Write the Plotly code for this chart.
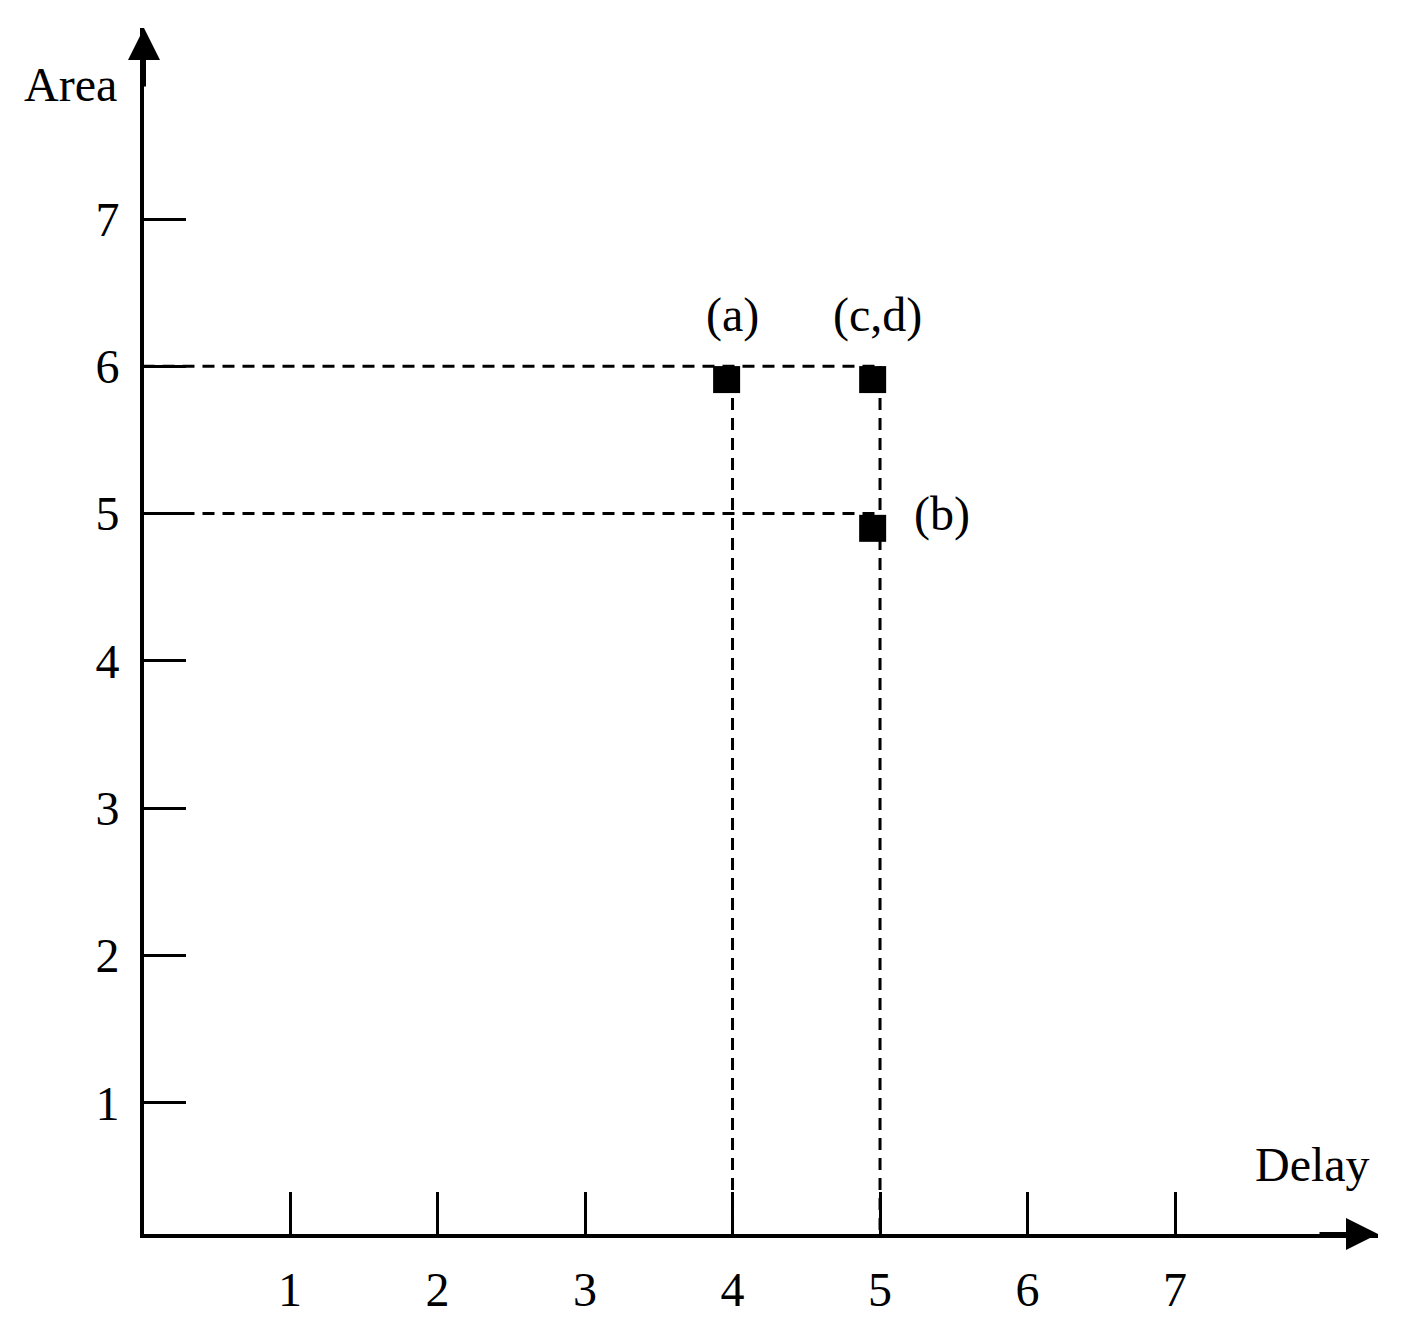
import plotly.graph_objects as go

# Design points (delay, area) as labelled on the chart
labels = ["(a)", "(b)", "(c,d)"]
delay = [4, 5, 5]
area = [6, 5, 6]
# Marker positions (slightly offset in the print)
marker_delay = [3.96, 4.95, 4.95]
marker_area = [5.91, 4.90, 5.91]

x_ticks = [1, 2, 3, 4, 5, 6, 7]
y_ticks = [1, 2, 3, 4, 5, 6, 7]
x_title = "Delay"
y_title = "Area"

FONT = "Liberation Serif, Times New Roman, serif"
DASH = "12px,8px"

fig = go.Figure()

# horizontal dashed guides from the y-axis to the points
for a in sorted(set(area)):
    xmax = max(d for d, ar in zip(delay, area) if ar == a)
    fig.add_trace(go.Scatter(x=[0, xmax], y=[a, a], mode="lines",
                             line=dict(color="black", width=3, dash=DASH),
                             hoverinfo="skip", showlegend=False))
# vertical dashed guides from the points down to the x-axis
for d in sorted(set(delay)):
    ymax = max(ar for dd, ar in zip(delay, area) if dd == d)
    fig.add_trace(go.Scatter(x=[d, d], y=[0, ymax], mode="lines",
                             line=dict(color="black", width=3, dash=DASH),
                             hoverinfo="skip", showlegend=False))

fig.add_trace(go.Scatter(x=marker_delay, y=marker_area, mode="markers",
                         marker=dict(symbol="square", size=27, color="black"),
                         showlegend=False))

# point labels
offsets = {"(a)": (0, 51), "(c,d)": (-3, 51), "(b)": (62, 0)}
for lab, d, a in zip(labels, delay, area):
    dx, dy = offsets[lab]
    fig.add_annotation(x=d, y=a, text=lab, showarrow=False, xshift=dx, yshift=dy,
                       font=dict(family=FONT, size=48, color="black"))

axis_common = dict(showgrid=False, zeroline=False, showline=True, linecolor="black",
                   linewidth=4, ticks="inside", ticklen=42, tickwidth=3,
                   tickcolor="black", tickfont=dict(family=FONT, size=48, color="black"),
                   mirror=False, automargin=False)

fig.update_xaxes(range=[0.0102, 8.376], tickvals=x_ticks, ticktext=[str(v) for v in x_ticks],
                 ticklabelstandoff=10, **axis_common)
fig.update_yaxes(range=[0.109, 8.297], tickvals=y_ticks, ticktext=[str(v) for v in y_ticks],
                 ticklabelstandoff=11, **axis_common)

# axis arrowheads
fig.add_annotation(xref="paper", yref="paper", x=1.0, y=0.0, ax=-60, ay=0,
                   axref="pixel", ayref="pixel", showarrow=True, arrowhead=2,
                   arrowsize=1.6, arrowwidth=4, arrowcolor="black", text="")
fig.add_annotation(xref="paper", yref="paper", x=0.0, y=1.0, ax=0, ay=60,
                   axref="pixel", ayref="pixel", showarrow=True, arrowhead=2,
                   arrowsize=1.6, arrowwidth=4, arrowcolor="black", text="")

# axis titles (pixel targets: Area centre (70, 85), Delay centre (1312, 1164))
PL, PT, PW, PH = 144, 28, 1234, 1206
fig.add_annotation(xref="paper", yref="paper", x=(70 - PL) / PW, y=(PT + PH - 85) / PH,
                   xanchor="center", yanchor="middle", text=y_title,
                   showarrow=False, font=dict(family=FONT, size=48, color="black"))
fig.add_annotation(xref="paper", yref="paper", x=(1312 - PL) / PW, y=(PT + PH - 1164) / PH,
                   xanchor="center", yanchor="middle", text=x_title,
                   showarrow=False, font=dict(family=FONT, size=48, color="black"))

fig.update_layout(template="none", width=1418, height=1323,
                  margin=dict(l=136, r=48, t=20, b=97),
                  plot_bgcolor="white", paper_bgcolor="white")

fig.write_html("out.html")
